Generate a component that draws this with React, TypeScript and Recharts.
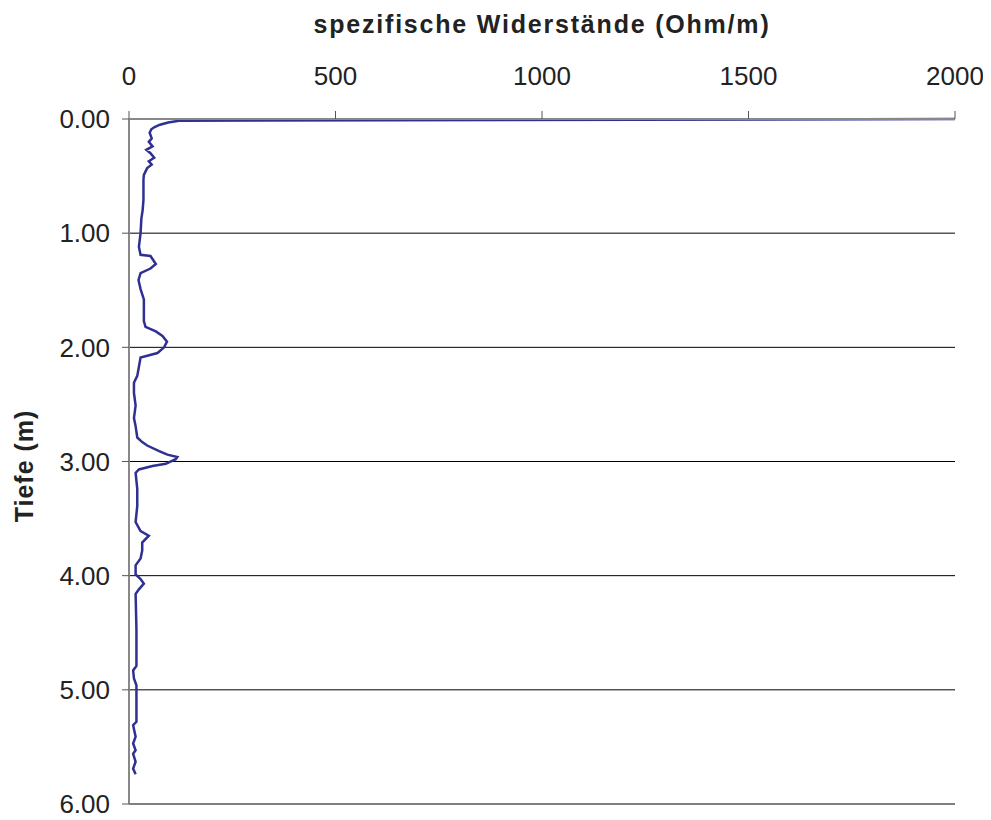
import React from 'react';
import { LineChart, Line, XAxis, YAxis, CartesianGrid } from 'recharts';

// Tiefe (m) und spezifischer Widerstand (Ohm/m)
const depths = [
  0.0, 0.015, 0.03, 0.05, 0.07, 0.09, 0.12, 0.17, 0.2, 0.24, 0.27, 0.3, 0.34, 0.37, 0.4, 0.43,
  0.49, 0.53, 0.71, 0.8, 0.87, 1.0, 1.12, 1.19, 1.2, 1.27, 1.31, 1.35, 1.41, 1.49, 1.58, 1.7,
  1.77, 1.82, 1.86, 1.9, 1.95, 2.0, 2.05, 2.09, 2.17, 2.25, 2.31, 2.4, 2.51, 2.62, 2.69, 2.79,
  2.83, 2.86, 2.91, 2.94, 2.96, 2.98, 3.02, 3.04, 3.07, 3.1, 3.24, 3.39, 3.53, 3.61, 3.65, 3.71,
  3.78, 3.85, 3.91, 3.99, 4.03, 4.07, 4.12, 4.16, 4.47, 4.79, 4.83, 4.9, 4.96, 5.28, 5.31, 5.41,
  5.47, 5.53, 5.56, 5.63, 5.69, 5.74,
];
const resistances = [
  2000, 121, 95, 75, 62, 54, 50, 55, 48, 57, 42, 52, 61, 48, 55, 44,
  36, 35, 35, 33, 30, 28, 24, 28, 52, 65, 52, 28, 23, 28, 36, 36,
  36, 40, 65, 81, 92, 85, 69, 28, 24, 20, 12, 12, 16, 12, 16, 20,
  32, 44, 73, 93, 117, 113, 89, 57, 24, 16, 20, 20, 16, 28, 48, 32,
  32, 28, 16, 16, 28, 36, 24, 16, 18, 18, 10, 12, 18, 18, 10, 16,
  10, 16, 10, 16, 10, 16,
];
const xTicks = [0, 500, 1000, 1500, 2000];
const yTicks = [0, 1, 2, 3, 4, 5, 6];

const data = depths.map((d, i) => ({ depth: d, value: resistances[i] }));

const font = '"Liberation Sans", Arial, sans-serif';

export default function App() {
  return (
    <div style={{ position: 'relative', width: 975, height: 812, fontFamily: font }}>
      <div
        style={{
          position: 'absolute',
          left: 534,
          top: 4,
          transform: 'translateX(-50%)',
          whiteSpace: 'nowrap',
          fontSize: 25,
          lineHeight: '25px',
          fontWeight: 'bold',
          letterSpacing: 1.8,
          color: '#222',
        }}
      >
        spezifische Widerstände (Ohm/m)
      </div>
      <div
        style={{
          position: 'absolute',
          left: 16,
          top: 458,
          transform: 'translate(-50%, -50%) rotate(-90deg)',
          whiteSpace: 'nowrap',
          fontSize: 25,
          lineHeight: '25px',
          fontWeight: 'bold',
          letterSpacing: 1,
          color: '#222',
        }}
      >
        Tiefe (m)
      </div>
      <LineChart
        width={975}
        height={812}
        data={data}
        layout="vertical"
        margin={{ top: 11, right: 28, bottom: 16, left: 11 }}
      >
        <CartesianGrid horizontal vertical={false} stroke="#000" strokeWidth={1} />
        <XAxis
          type="number"
          orientation="top"
          dataKey="value"
          domain={[0, 2000]}
          ticks={xTicks}
          height={100}
          tickSize={8}
          tickMargin={26}
          axisLine={{ stroke: '#888', strokeWidth: 2 }}
          tickLine={{ stroke: '#555' }}
          tick={{ fill: '#222', fontSize: 26, fontFamily: font }}
        />
        <YAxis
          type="number"
          dataKey="depth"
          domain={[0, 6]}
          ticks={yTicks}
          width={110}
          tickSize={7}
          tickMargin={12}
          tickFormatter={(v: number) => v.toFixed(2)}
          axisLine={{ stroke: '#888', strokeWidth: 2 }}
          tickLine={{ stroke: '#555' }}
          tick={{ fill: '#222', fontSize: 26, fontFamily: font }}
        />
        <Line
          type="linear"
          dataKey="value"
          stroke="#2e3192"
          strokeWidth={2.5}
          dot={false}
          isAnimationActive={false}
        />
      </LineChart>
    </div>
  );
}
